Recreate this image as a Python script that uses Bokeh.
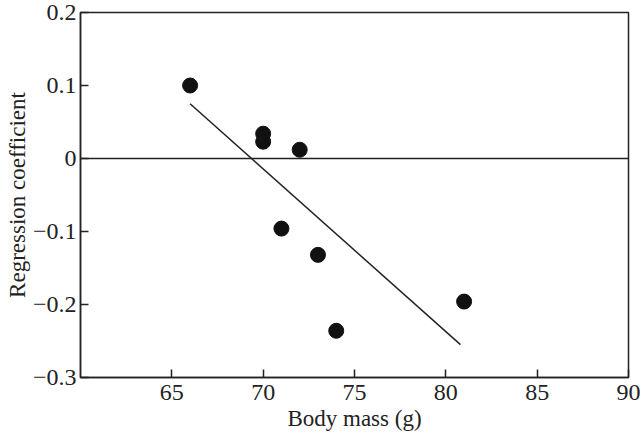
from bokeh.plotting import figure
from bokeh.models import FixedTicker, Span, Range1d
from bokeh.embed import file_html
from bokeh.resources import INLINE

# Data
body_mass = [66, 70, 70, 72, 71, 73, 74, 81]
reg_coef = [0.100, 0.034, 0.023, 0.012, -0.096, -0.132, -0.236, -0.196]
fit_x = [66.0, 80.8]
fit_y = [0.075, -0.255]
x_ticks = [65, 70, 75, 80, 85, 90]
y_ticks = [-0.3, -0.2, -0.1, 0.0, 0.1, 0.2]
y_tick_labels = ["\u22120.3", "\u22120.2", "\u22120.1", "0", "0.1", "0.2"]

FONT = "Liberation Serif"

p = figure(width=640, height=436, output_backend="svg", toolbar_location=None,
           x_range=Range1d(60, 90), y_range=Range1d(-0.3, 0.2),
           min_border_left=80, min_border_right=12, min_border_top=12, min_border_bottom=59)

p.xgrid.visible = False
p.ygrid.visible = False
p.outline_line_color = "#222222"
p.outline_line_width = 1.5
p.background_fill_color = "white"
p.border_fill_color = "white"

zero = Span(location=0, dimension="width", line_color="#222222", line_width=1.5)
p.add_layout(zero)

p.line(fit_x, fit_y, line_color="#222222", line_width=1.5)
p.scatter(body_mass, reg_coef, size=15, fill_color="#111111", line_color="#111111")

for ax in (p.xaxis[0], p.yaxis[0]):
    ax.axis_line_color = "#222222"
    ax.axis_line_width = 1.5
    ax.major_tick_in = 8
    ax.major_tick_out = 0
    ax.major_tick_line_color = "#222222"
    ax.major_tick_line_width = 1.5
    ax.minor_tick_line_color = None
    ax.major_label_text_font = FONT
    ax.major_label_text_font_size = "24px"
    ax.major_label_text_color = "#222222"
    ax.axis_label_text_font = FONT
    ax.axis_label_text_font_size = "23px"
    ax.axis_label_text_font_style = "normal"
    ax.axis_label_text_color = "#222222"

p.xaxis.ticker = FixedTicker(ticks=x_ticks)
p.yaxis.ticker = FixedTicker(ticks=y_ticks)
p.yaxis.major_label_overrides = {t: l for t, l in zip(y_ticks, y_tick_labels)}
p.xaxis.axis_label = "Body mass (g)"
p.yaxis.axis_label = "Regression coefficient"
p.xaxis.major_label_standoff = 7
p.yaxis.major_label_standoff = 4
p.xaxis.axis_label_standoff = 3
p.yaxis.axis_label_standoff = 0

open("out.html", "w").write(file_html(p, INLINE))
